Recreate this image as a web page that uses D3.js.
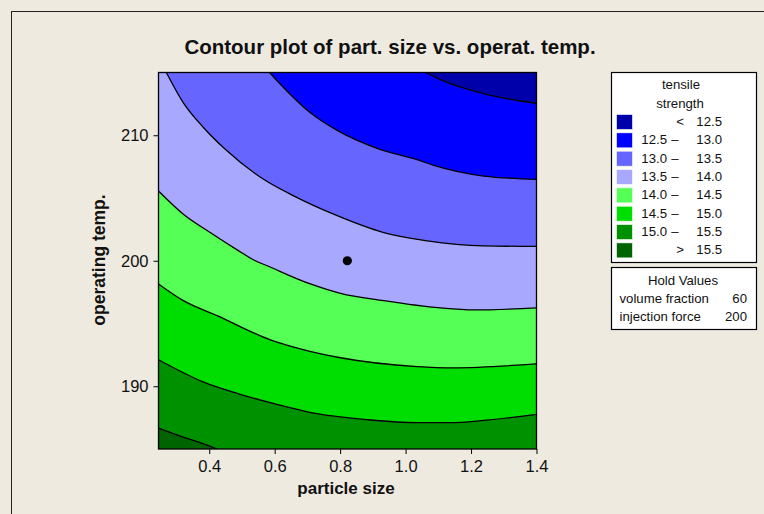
<!DOCTYPE html>
<html>
<head>
<meta charset="utf-8">
<script src="https://cdn.jsdelivr.net/npm/d3@7/dist/d3.min.js"></script>
<style>
  body { margin: 0; background: #eeeae0; }
  svg { display: block; font-family: "Liberation Sans", Arial, sans-serif; }
</style>
</head>
<body>
<svg id="chart" width="764" height="514"></svg>
<script>
// contour lines: [particle size, operating temp]
var line125 = [[1.061, 215], [1.117, 214.31], [1.229, 213.38], [1.341, 212.77], [1.4, 212.54]];
var line130 = [[0.584, 215], [0.638, 213.51], [0.709, 211.79], [0.795, 210.33], [0.913, 208.96],
               [1.035, 208.05], [1.086, 207.6], [1.239, 206.75], [1.4, 206.49]];
var line135 = [[0.269, 215], [0.321, 212.58], [0.383, 210.6], [0.449, 208.88], [0.566, 206.49],
               [0.658, 205.17], [0.78, 203.71], [0.933, 202.25], [1.066, 201.59], [1.239, 201.19], [1.4, 201.14]];
var line140 = [[0.245, 205.56], [0.321, 203.71], [0.403, 202.25], [0.49, 200.79], [0.536, 200.06],
               [0.577, 199.6], [0.709, 198.15], [0.801, 197.4], [0.933, 196.82], [1.106, 196.24], [1.208, 196.08], [1.4, 196.24]];
var line145 = [[0.245, 198.15], [0.321, 196.82], [0.424, 195.63], [0.587, 193.7], [0.678, 192.98],
               [0.801, 192.27], [1.035, 191.57], [1.147, 191.47], [1.4, 191.79]];
var line150 = [[0.245, 192.11], [0.383, 190.33], [0.49, 189.4], [0.607, 188.55], [0.729, 187.81],
               [0.882, 187.34], [1.035, 187.1], [1.137, 187.1], [1.239, 187.28], [1.4, 187.76]];
var line155 = [[0.245, 186.67], [0.332, 185.85], [0.3725, 185.51], [0.4235, 185]];

var contourLines = [line125, line130, line135, line140, line145, line150, line155];

var bandColors = ["#0000aa", "#0000ff", "#6666ff", "#a8a8ff", "#55ff55", "#00dd00", "#009100", "#006400"];
var bandLow  = ["", "12.5", "13.0", "13.5", "14.0", "14.5", "15.0", ""];
var bandSign = ["<", "–", "–", "–", "–", "–", "–", ">"];
var bandHigh = ["12.5", "13.0", "13.5", "14.0", "14.5", "15.0", "15.5", "15.5"];

var xTicks = [0.4, 0.6, 0.8, 1.0, 1.2, 1.4];
var yTicks = [190, 200, 210];
var centerPoint = [0.822, 200];

var holdNames = ["volume fraction", "injection force"];
var holdValues = ["60", "200"];

var svg = d3.select("#chart");

// outer frame of the graph window
svg.append("rect")
  .attr("x", 11.5).attr("y", 11.5)
  .attr("width", 800).attr("height", 600)
  .attr("fill", "none").attr("stroke", "#222").attr("stroke-width", 1);

var pLeft = 158.5, pRight = 536.5, pTop = 72.5, pBottom = 449;

var x = d3.scaleLinear().domain([0.245, 1.4]).range([pLeft, pRight]);
var y = d3.scaleLinear().domain([185, 215]).range([pBottom, pTop]);

var xd = x.domain(), yd = y.domain();

svg.append("defs").append("clipPath").attr("id", "plotclip")
  .append("rect")
  .attr("x", pLeft).attr("y", pTop)
  .attr("width", pRight - pLeft).attr("height", pBottom - pTop);

var plot = svg.append("g").attr("clip-path", "url(#plotclip)");

// lowest band covers the whole area, the others are painted over it
plot.append("rect")
  .attr("x", pLeft).attr("y", pTop)
  .attr("width", pRight - pLeft).attr("height", pBottom - pTop)
  .attr("fill", bandColors[0]);

var line = d3.line()
  .x(function (d) { return x(d[0]); })
  .y(function (d) { return y(d[1]); })
  .curve(d3.curveMonotoneX);

function regionBelow(pts) {
  var first = pts[0], last = pts[pts.length - 1];
  var corners = [];
  if (Math.abs(last[0] - xd[1]) < 1e-9) corners.push([xd[1], yd[0]]);
  corners.push([xd[0], yd[0]]);
  if (Math.abs(first[1] - yd[1]) < 1e-9) corners.push([xd[0], yd[1]]);
  var p = line(pts);
  corners.forEach(function (c) { p += "L" + x(c[0]) + "," + y(c[1]); });
  return p + "Z";
}

plot.selectAll(".band")
  .data(contourLines)
  .enter().append("path")
  .attr("class", "band")
  .attr("d", regionBelow)
  .attr("fill", function (d, i) { return bandColors[i + 1]; });

plot.selectAll(".cline")
  .data(contourLines)
  .enter().append("path")
  .attr("class", "cline")
  .attr("d", line)
  .attr("fill", "none")
  .attr("stroke", "#000")
  .attr("stroke-width", 1.3);

plot.append("circle")
  .attr("cx", x(centerPoint[0]))
  .attr("cy", y(centerPoint[1]))
  .attr("r", 4.6)
  .attr("fill", "#000");

// frame of the plot
svg.append("rect")
  .attr("x", pLeft).attr("y", pTop)
  .attr("width", pRight - pLeft).attr("height", pBottom - pTop)
  .attr("fill", "none").attr("stroke", "#000").attr("stroke-width", 1.3);

var xAxis = svg.append("g")
  .attr("transform", "translate(0," + pBottom + ")")
  .call(d3.axisBottom(x).tickValues(xTicks).tickSize(5).tickPadding(6).tickFormat(d3.format(".1f")));
var yAxis = svg.append("g")
  .attr("transform", "translate(" + pLeft + ",0)")
  .call(d3.axisLeft(y).tickValues(yTicks).tickSize(5).tickPadding(5).tickFormat(d3.format("d")));

[xAxis, yAxis].forEach(function (g) {
  g.select(".domain").remove();
  g.selectAll("line").attr("stroke", "#000");
  g.selectAll("text")
    .attr("fill", "#111")
    .style("font-family", "'Liberation Sans', Arial, sans-serif")
    .style("font-size", "16.5px");
});

svg.append("text")
  .attr("x", 390).attr("y", 54)
  .attr("text-anchor", "middle")
  .style("font-weight", "bold").style("font-size", "20.5px")
  .attr("fill", "#111")
  .text("Contour plot of part. size vs. operat. temp.");

svg.append("text")
  .attr("x", 346).attr("y", 494)
  .attr("text-anchor", "middle")
  .style("font-weight", "bold").style("font-size", "17px")
  .attr("fill", "#111")
  .text("particle size");

svg.append("text")
  .attr("transform", "translate(105,260) rotate(-90)")
  .attr("text-anchor", "middle")
  .style("font-weight", "bold").style("font-size", "17.5px")
  .attr("fill", "#111")
  .text("operating temp.");

// legend
var legend = svg.append("g").style("font-size", "13.2px").attr("fill", "#111");

legend.append("rect")
  .attr("x", 611.5).attr("y", 72.5)
  .attr("width", 145).attr("height", 190)
  .attr("fill", "#fff").attr("stroke", "#000").attr("stroke-width", 1.2);

legend.append("text").attr("x", 681).attr("y", 89).attr("text-anchor", "middle").text("tensile");
legend.append("text").attr("x", 680).attr("y", 107.5).attr("text-anchor", "middle").text("strength");

var rows = legend.selectAll(".row")
  .data(bandColors)
  .enter().append("g")
  .attr("class", "row")
  .attr("transform", function (d, i) { return "translate(0," + (i * 18.34) + ")"; });

rows.append("rect")
  .attr("x", 616.5).attr("y", 114.5)
  .attr("width", 16).attr("height", 15)
  .attr("fill", function (d) { return d; })
  .attr("stroke", "#fff").attr("stroke-width", 0.6);

rows.append("text")
  .attr("x", 667).attr("y", 126)
  .attr("text-anchor", "end")
  .text(function (d, i) { return bandLow[i]; });

rows.append("text")
  .attr("x", function (d, i) { return bandLow[i] ? 675 : 680; })
  .attr("y", 126)
  .attr("text-anchor", "middle")
  .text(function (d, i) { return bandSign[i]; });

rows.append("text")
  .attr("x", 722).attr("y", 126)
  .attr("text-anchor", "end")
  .text(function (d, i) { return bandHigh[i]; });

legend.append("rect")
  .attr("x", 611.5).attr("y", 267.5)
  .attr("width", 145).attr("height", 62)
  .attr("fill", "#fff").attr("stroke", "#000").attr("stroke-width", 1.2);

legend.append("text").attr("x", 683).attr("y", 285).attr("text-anchor", "middle").text("Hold Values");

holdNames.forEach(function (name, i) {
  legend.append("text").attr("x", 619.5).attr("y", 303.3 + i * 17.4).text(name);
  legend.append("text").attr("x", 747).attr("y", 303.3 + i * 17.4).attr("text-anchor", "end").text(holdValues[i]);
});
</script>
</body>
</html>
